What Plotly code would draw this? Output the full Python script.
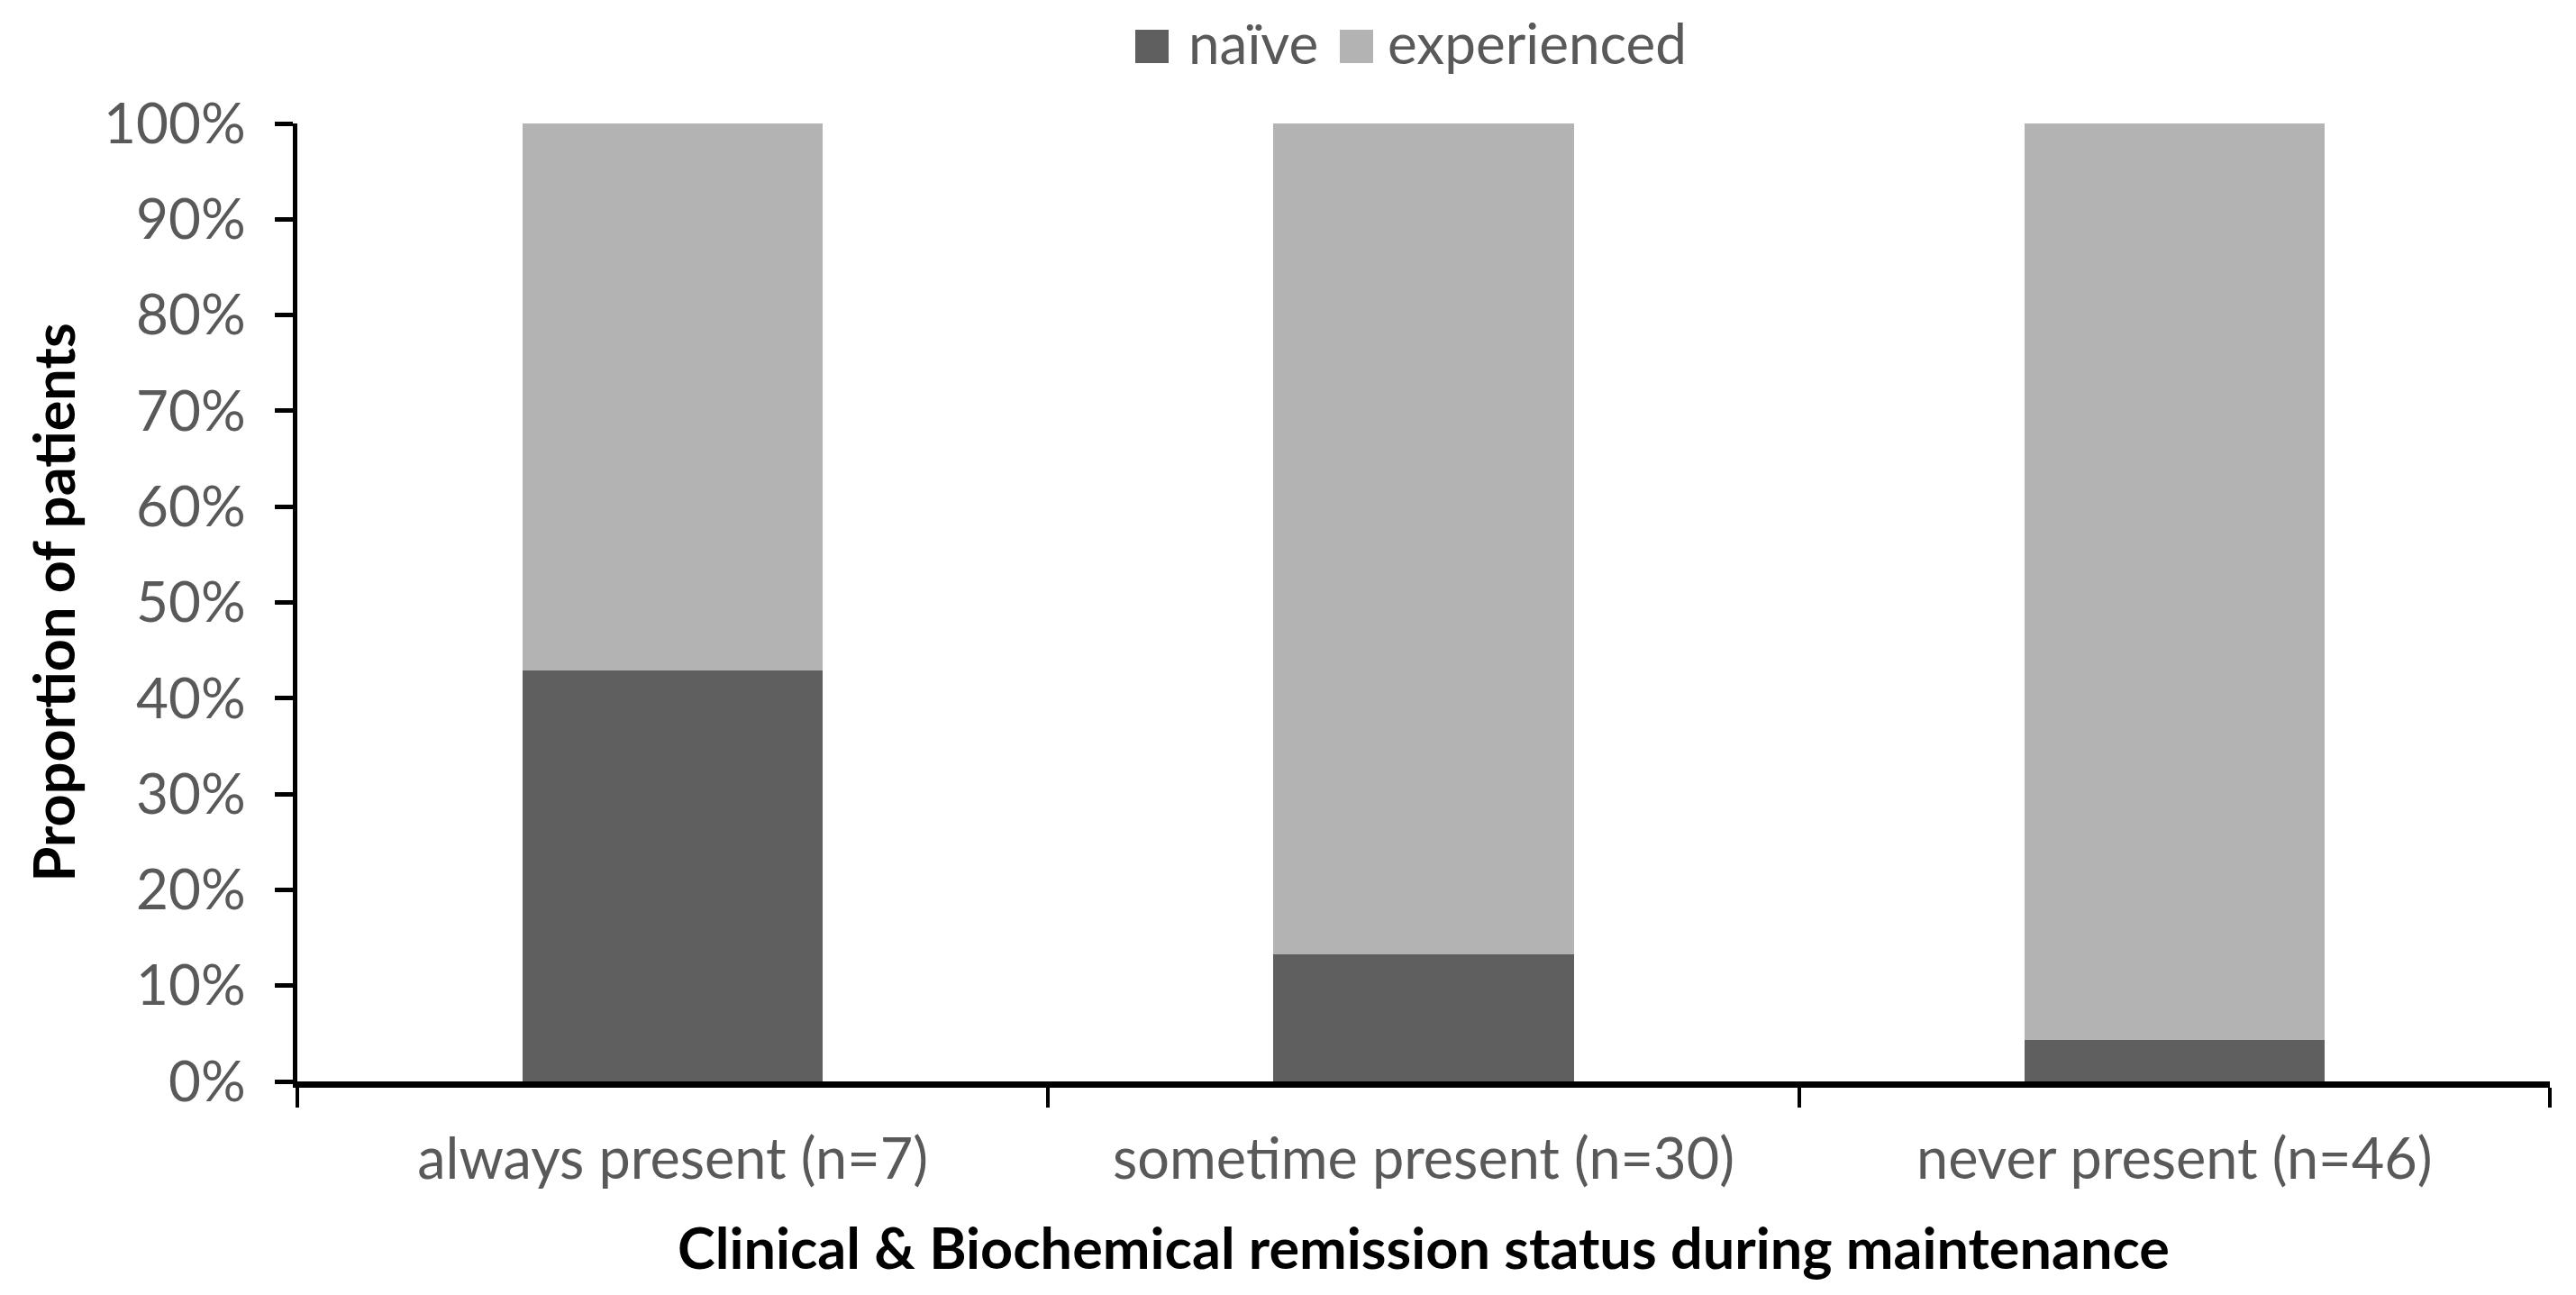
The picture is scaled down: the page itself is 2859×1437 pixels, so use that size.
import plotly.graph_objects as go

categories = ["always present (n=7)", "sometime present (n=30)", "never present (n=46)"]
naive = [42.9, 13.3, 4.3]
experienced = [57.1, 86.7, 95.7]
series_names = ["naïve", "experienced"]
series_colors = ["#5f5f5f", "#b3b3b3"]
y_ticks = [0, 10, 20, 30, 40, 50, 60, 70, 80, 90, 100]
y_tick_labels = ["0%", "10%", "20%", "30%", "40%", "50%", "60%", "70%", "80%", "90%", "100%"]

FONT = "Lato"
GREY = "#595959"

fig = go.Figure()
for name, vals, col in zip(series_names, [naive, experienced], series_colors):
    fig.add_trace(go.Bar(x=categories, y=vals, name=name, marker=dict(color=col, line=dict(width=0)),
                         showlegend=False))

fig.update_layout(
    barmode="stack",
    bargap=0.6,
    width=2851,
    height=1429,
    margin=dict(l=322, r=29, t=129, b=237, autoexpand=False),
    plot_bgcolor="white",
    paper_bgcolor="white",
    font=dict(family=FONT, size=62, color=GREY),
    showlegend=False,
)

fig.update_xaxes(
    showline=True, linecolor="black", linewidth=7,
    ticks="outside", tickson="boundaries", ticklen=22, tickwidth=4, tickcolor="black",
    ticklabelstandoff=25,
    tickfont=dict(family=FONT, size=63, color=GREY),
    showgrid=False, zeroline=False,
    title=dict(text="Clinical & Biochemical remission status during maintenance",
               font=dict(family=FONT, size=63, color="black", weight="bold"), standoff=47),
)
fig.update_yaxes(
    range=[0, 100], tickvals=y_ticks, ticktext=y_tick_labels,
    showline=True, linecolor="black", linewidth=5,
    ticks="outside", ticklen=20, tickwidth=5, tickcolor="black",
    ticklabelstandoff=20,
    tickfont=dict(family=FONT, size=62, color=GREY),
    showgrid=False, zeroline=False,
    title=dict(text="Proportion of patients",
               font=dict(family=FONT, size=63, color="black", weight="bold"), standoff=12),
)

# manual legend (large squares like the reference)
def px_x(p):
    return (p - 330) / 2500.0

def px_y(p):
    return (1200 - p) / 1063.0

legend_items = [
    (series_names[0], series_colors[0], 1260, 1297, 1317),
    (series_names[1], series_colors[1], 1487, 1524, 1538),
]
for name, col, x0, x1, tx in legend_items:
    fig.add_shape(type="rect", xref="paper", yref="paper",
                  x0=px_x(x0), x1=px_x(x1), y0=px_y(70), y1=px_y(33),
                  fillcolor=col, line=dict(width=0))
    fig.add_annotation(xref="paper", yref="paper", x=px_x(tx), y=px_y(47),
                       xanchor="left", yanchor="middle", text=name, showarrow=False,
                       font=dict(family=FONT, size=62, color=GREY))

fig.write_html("out.html")
